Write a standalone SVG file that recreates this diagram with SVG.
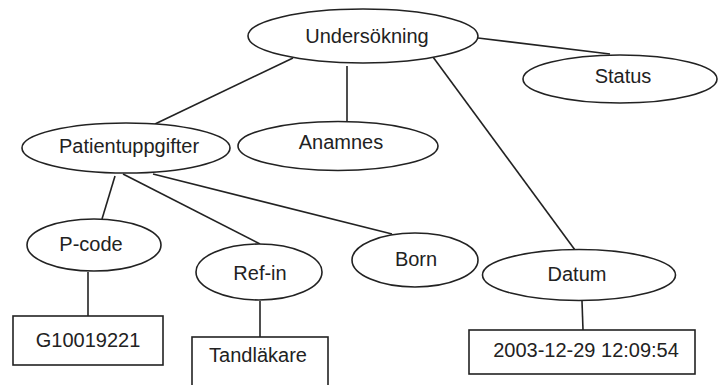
<svg xmlns="http://www.w3.org/2000/svg" width="718" height="385" viewBox="0 0 718 385">
<style>
.shape{fill:#fff;stroke:#222;stroke-width:1.6}
.conn line{stroke:#222;stroke-width:1.6}
text{font-family:"Liberation Sans",Arial,sans-serif;font-size:20px;fill:#222;text-anchor:middle}
</style>
<rect width="718" height="385" fill="#fff"/>
<g class="conn" id="connectors">
<line x1="293" y1="58" x2="155" y2="124"/>
<line x1="347" y1="66" x2="347" y2="122"/>
<line x1="433" y1="57" x2="575" y2="250"/>
<line x1="478" y1="38" x2="610" y2="54"/>
<line x1="115" y1="176" x2="102" y2="219"/>
<line x1="123" y1="174" x2="260" y2="244"/>
<line x1="153" y1="174" x2="392" y2="234"/>
<line x1="88" y1="272" x2="88" y2="316"/>
<line x1="260" y1="301" x2="260" y2="337"/>
<line x1="582" y1="301" x2="583" y2="330"/>
</g>
<g id="undersokning"><ellipse class="shape" cx="363" cy="36" rx="115" ry="27"/><text x="367" y="43">Undersökning</text></g>
<g id="status"><ellipse class="shape" cx="620" cy="79" rx="97" ry="24"/><text x="623" y="83">Status</text></g>
<g id="patientuppgifter"><ellipse class="shape" cx="126" cy="148" rx="104" ry="25"/><text x="129" y="153">Patientuppgifter</text></g>
<g id="anamnes"><ellipse class="shape" cx="338" cy="146" rx="100" ry="24.5"/><text x="341" y="149">Anamnes</text></g>
<g id="pcode"><ellipse class="shape" cx="94" cy="245" rx="67" ry="26"/><text x="91" y="251">P-code</text></g>
<g id="refin"><ellipse class="shape" cx="259" cy="272" rx="63" ry="28"/><text x="260" y="280">Ref-in</text></g>
<g id="born"><ellipse class="shape" cx="415" cy="260" rx="63" ry="27"/><text x="416" y="266">Born</text></g>
<g id="datum"><ellipse class="shape" cx="579" cy="275" rx="96.5" ry="25.5"/><text x="577" y="281">Datum</text></g>
<g id="g10019221"><rect class="shape" x="13" y="316" width="150" height="49"/><text x="88" y="347">G10019221</text></g>
<g id="tandlakare"><rect class="shape" x="192" y="337" width="136" height="60"/><text x="258" y="362">Tandläkare</text></g>
<g id="datetime"><rect class="shape" x="469" y="330" width="226" height="44"/><text x="586" y="357">2003-12-29 12:09:54</text></g>
</svg>
